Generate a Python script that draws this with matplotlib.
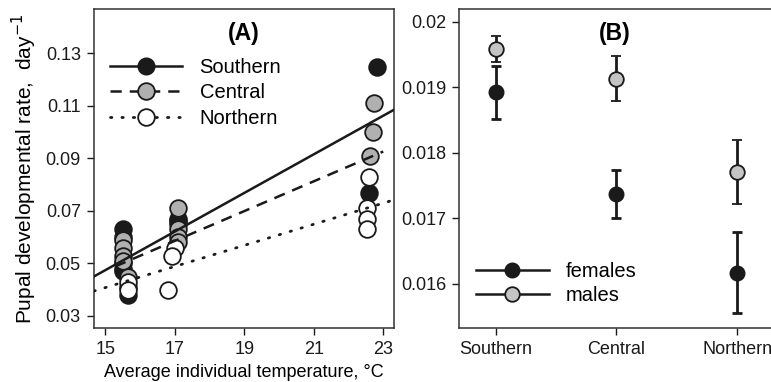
import matplotlib
matplotlib.use("Agg")
import matplotlib.pyplot as plt
from matplotlib.lines import Line2D

plt.rcParams['font.family'] = ['Liberation Sans', 'DejaVu Sans']

# ---- Panel A data ----
south_T = [15.5, 15.5, 15.5, 15.5, 15.5, 15.65, 15.65, 17.1, 17.1, 17.1, 22.81, 22.6]
south_R = [0.063, 0.060, 0.050, 0.048, 0.047, 0.038, 0.041, 0.067, 0.066, 0.065, 0.125, 0.077]
central_T = [15.5, 15.5, 15.5, 15.5, 15.65, 17.1, 17.1, 17.1, 17.1, 22.74, 22.72, 22.62]
central_R = [0.059, 0.056, 0.053, 0.051, 0.045, 0.071, 0.063, 0.060, 0.058, 0.111, 0.100, 0.091]
north_T = [15.65, 15.65, 16.81, 17.0, 16.92, 22.6, 22.52, 22.52, 22.52]
north_R = [0.043, 0.040, 0.040, 0.056, 0.053, 0.083, 0.071, 0.067, 0.063]

# regression fits: intercept, slope, x-range
south_fit = (-0.0628, 0.00735, 14.67, 23.31)
central_fit = (-0.0378, 0.00567, 15.28, 23.0)
north_fit = (-0.0195, 0.00402, 14.67, 23.31)

# ---- Panel B data ----
regions = ["Southern", "Central", "Northern"]
fem_mean = [0.01892, 0.01737, 0.01617]
fem_err = [0.00041, 0.00036, 0.00062]
male_mean = [0.01958, 0.01913, 0.01770]
male_err = [0.00020, 0.00034, 0.00049]

fig = plt.figure(figsize=(7.71, 3.82), dpi=100)
axA = fig.add_axes([0.1219, 0.1414, 0.3891, 0.8343])
axB = fig.add_axes([0.5957, 0.1414, 0.4043, 0.8343])

black = '#1a1a1a'
gray = '#b0b0b0'
ms = 12
dashed = (0, (4.5, 3.2))
dotted = (0, (0.5, 3.6))

axA.plot(south_T, south_R, 'o', ms=ms, mfc=black, mec=black, mew=1.3, zorder=2)
axA.plot(central_T, central_R, 'o', ms=ms, mfc=gray, mec=black, mew=1.3, zorder=3)
axA.plot(north_T, north_R, 'o', ms=ms, mfc='white', mec=black, mew=1.3, zorder=4)

for (a, b, x0, x1), ls, lw in [(south_fit, '-', 1.8), (central_fit, dashed, 1.8), (north_fit, dotted, 2.0)]:
    xs = [x0, x1]
    ys = [a + b * x for x in xs]
    axA.plot(xs, ys, color=black, lw=lw, ls=ls, zorder=5,
             dash_capstyle='round' if ls is dotted else 'butt')

axA.set_xlim(14.67, 23.31)
axA.set_ylim(0.0254, 0.1468)
axA.set_xticks([15, 17, 19, 21, 23])
axA.set_yticks([0.03, 0.05, 0.07, 0.09, 0.11, 0.13])
axA.set_yticklabels(['0.03', '0.05', '0.07', '0.09', '0.11', '0.13'])
axA.set_xlabel('Average individual temperature, °C', fontsize=13, labelpad=4.5)
axA.set_ylabel('Pupal developmental rate,  day$^{-1}$', fontsize=15, labelpad=5)
axA.text(0.5, 0.925, '(A)', transform=axA.transAxes, ha='center', va='center',
         fontsize=16.5, fontweight='bold')

handlesA = [
    Line2D([], [], color=black, lw=1.8, ls='-', marker='o', ms=ms, mfc=black, mec=black),
    Line2D([], [], color=black, lw=1.8, ls=dashed, marker='o', ms=ms, mfc=gray, mec=black, mew=1.3),
    Line2D([], [], color=black, lw=2.0, ls=dotted, dash_capstyle='round', marker='o', ms=ms,
           mfc='white', mec=black, mew=1.3),
]
axA.legend(handlesA, ['Southern', 'Central', 'Northern'], loc='upper left',
           bbox_to_anchor=(0.053, 0.848), frameon=False, fontsize=14.5, handlelength=3.6,
           handletextpad=0.85, labelspacing=0.33, borderaxespad=0.0, borderpad=0.0)

# Panel B
pos = [1, 2, 3]
axB.errorbar(pos, fem_mean, yerr=fem_err, fmt='o', ms=10.5, mfc=black, mec=black,
             ecolor=black, elinewidth=2, capsize=3.5, capthick=2, zorder=3)
axB.errorbar(pos, male_mean, yerr=male_err, fmt='o', ms=10.5, mfc='#c4c4c4', mec=black, mew=1.3,
             ecolor=black, elinewidth=2, capsize=3.5, capthick=2, zorder=4)
axB.set_xlim(0.698, 3.28)
axB.set_ylim(0.015325, 0.020189)
axB.set_xticks(pos)
axB.set_xticklabels(regions)
axB.set_yticks([0.016, 0.017, 0.018, 0.019, 0.02])
axB.set_yticklabels(['0.016', '0.017', '0.018', '0.019', '0.02'])
axB.spines['right'].set_visible(False)
axB.text(0.5, 0.925, '(B)', transform=axB.transAxes, ha='center', va='center',
         fontsize=16.5, fontweight='bold')
handlesB = [
    Line2D([], [], color=black, lw=1.8, marker='o', ms=10.5, mfc=black, mec=black),
    Line2D([], [], color=black, lw=1.8, marker='o', ms=10.5, mfc='#c4c4c4', mec=black, mew=1.3),
]
axB.legend(handlesB, ['females', 'males'], loc='lower left', bbox_to_anchor=(0.054, 0.073),
           frameon=False, fontsize=14.5, handlelength=3.6, handletextpad=0.85,
           labelspacing=0.25, borderaxespad=0.0, borderpad=0.0)

for ax in (axA, axB):
    ax.tick_params(direction='out', length=5, width=1, labelsize=13, colors=black, pad=4.5)
    for s in ax.spines.values():
        s.set_linewidth(1.1)
        s.set_color('#333333')

fig.savefig('out.png', dpi=100)
